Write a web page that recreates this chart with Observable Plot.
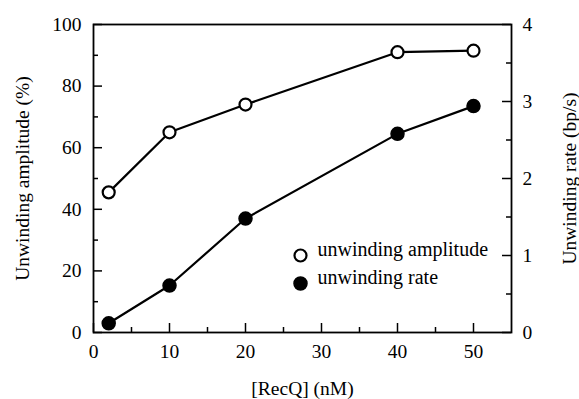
<!DOCTYPE html>
<html><head><meta charset="utf-8">
<script src="https://cdn.jsdelivr.net/npm/d3@7"></script>
<script src="https://cdn.jsdelivr.net/npm/@observablehq/plot@0.6"></script>
<style>body{margin:0;background:#fff} svg text{font-family:"Liberation Serif","Times New Roman",serif}</style>
</head><body><div id="chart"></div>
<script>
const recq = [2, 10, 20, 40, 50];
const amplitude = [45.5, 65, 74, 91, 91.5];
const rate = [0.12, 0.61, 1.48, 2.58, 2.94];
const xTicks = [0, 10, 20, 30, 40, 50];
const xMinor = [5, 15, 25, 35, 45];
const yTicks = [0, 20, 40, 60, 80, 100];
const yMinor = [10, 30, 50, 70, 90];
const rTicks = [0, 1, 2, 3, 4];
const rMinor = [0.5, 1.5, 2.5, 3.5];
const legendItems = ["unwinding amplitude", "unwinding rate"];

const W = 579, H = 399, mL = 93, mR = 68, mT = 24, mB = 67;
const fw = W - mL - mR, fh = H - mT - mB;
const k = 25; // rate -> left scale
const ampData = recq.map((x, i) => ({x, y: amplitude[i]}));
const rateData = recq.map((x, i) => ({x, y: rate[i] * k}));
const font = "'Liberation Serif', 'Times New Roman', serif";

const chart = Plot.plot({
  width: W, height: H,
  marginLeft: mL, marginRight: mR, marginTop: mT, marginBottom: mB,
  style: {fontFamily: font, fontSize: "20px", color: "black", background: "white"},
  x: {domain: [0, 55]},
  y: {domain: [0, 100]},
  marks: [
    Plot.frame({stroke: "black", strokeWidth: 1.8}),
    // inward ticks
    Plot.tickY(yTicks, {y: d => d, insetRight: fw - 9, stroke: "black", strokeWidth: 1.5}),
    Plot.tickY(yMinor, {y: d => d, insetRight: fw - 5, stroke: "black", strokeWidth: 1.5}),
    Plot.tickY(rTicks, {y: d => d * k, insetLeft: fw - 9, stroke: "black", strokeWidth: 1.5}),
    Plot.tickY(rMinor, {y: d => d * k, insetLeft: fw - 5, stroke: "black", strokeWidth: 1.5}),
    Plot.tickX(xTicks, {x: d => d, insetTop: fh - 9, stroke: "black", strokeWidth: 1.5}),
    Plot.tickX(xMinor, {x: d => d, insetTop: fh - 5, stroke: "black", strokeWidth: 1.5}),
    Plot.axisX({ticks: xTicks, tickSize: 0, tickPadding: 12, fontSize: 19.5, fontFamily: font,
      label: "[RecQ] (nM)", labelAnchor: "center", labelArrow: "none", labelOffset: 62}),
    Plot.axisY({ticks: yTicks, tickSize: 0, tickPadding: 12, fontSize: 19.5, fontFamily: font,
      label: "Unwinding amplitude (%)", labelAnchor: "center", labelArrow: "none", labelOffset: 78}),
    Plot.axisY({anchor: "right", ticks: rTicks.map(d => d * k), tickFormat: d => d / k, tickSize: 0, tickPadding: 11, fontSize: 19.5, fontFamily: font,
      label: "Unwinding rate (bp/s)", labelAnchor: "center", labelArrow: "none", labelOffset: 64}),
    Plot.line(ampData, {x: "x", y: "y", stroke: "black", strokeWidth: 2.2}),
    Plot.line(rateData, {x: "x", y: "y", stroke: "black", strokeWidth: 2.2}),
    Plot.dot(ampData, {x: "x", y: "y", r: 6, fill: "white", stroke: "black", strokeWidth: 2.2}),
    Plot.dot(rateData, {x: "x", y: "y", r: 6.5, fill: "black", stroke: "black"}),
    // legend
    Plot.dot([legendItems[0]], {frameAnchor: "bottom-left", dx: 207, dy: -77, r: 6, fill: "white", stroke: "black", strokeWidth: 2.2}),
    Plot.dot([legendItems[1]], {frameAnchor: "bottom-left", dx: 207, dy: -49, r: 6.5, fill: "black", stroke: "black"}),
    Plot.text([legendItems[0]], {text: d => d, frameAnchor: "bottom-left", textAnchor: "start", dx: 224, dy: -77, fontSize: 20, fontFamily: font}),
    Plot.text([legendItems[1]], {text: d => d, frameAnchor: "bottom-left", textAnchor: "start", dx: 224, dy: -49, fontSize: 20, fontFamily: font})
  ]
});
document.getElementById("chart").appendChild(chart);
</script>
</body></html>
